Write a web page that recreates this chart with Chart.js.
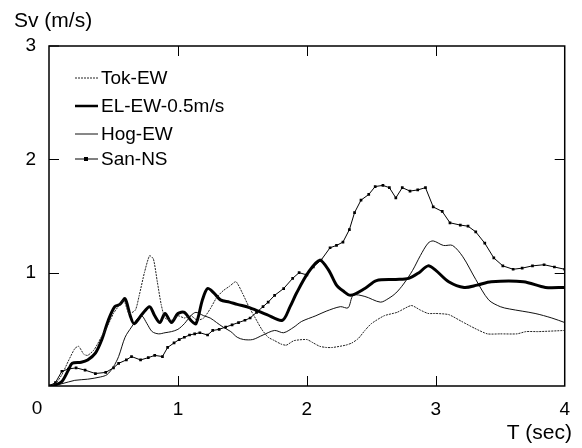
<!DOCTYPE html>
<html>
<head>
<meta charset="utf-8">
<script src="https://cdn.jsdelivr.net/npm/chart.js@4.4.1/dist/chart.umd.min.js"></script>
<style>
  html, body { margin: 0; padding: 0; background: #fff; }
  #wrap { width: 582px; height: 448px; }
</style>
</head>
<body>
<div id="wrap"><canvas id="sv"></canvas></div>
<script>
// period T (sec) and spectral velocity Sv (m/s)
const tokT  = [0, 0.05, 0.1, 0.15, 0.2, 0.23, 0.27, 0.3, 0.35, 0.4, 0.45, 0.5, 0.55, 0.58, 0.62, 0.67, 0.7, 0.74, 0.78, 0.81, 0.84, 0.87, 0.9, 0.95, 1.0, 1.05, 1.1, 1.15, 1.2, 1.25, 1.3, 1.35, 1.4, 1.45, 1.5, 1.55, 1.6, 1.65, 1.7, 1.75, 1.8, 1.84, 1.9, 2.0, 2.05, 2.1, 2.15, 2.2, 2.3, 2.35, 2.4, 2.45, 2.5, 2.6, 2.7, 2.81, 2.88, 2.94, 3.0, 3.1, 3.2, 3.3, 3.4, 3.5, 3.63, 3.7, 3.8, 4.0];
const tokSv = [0, 0.02, 0.1, 0.22, 0.33, 0.35, 0.28, 0.27, 0.32, 0.42, 0.52, 0.64, 0.72, 0.76, 0.64, 0.67, 0.8, 1.0, 1.15, 1.12, 0.92, 0.72, 0.6, 0.58, 0.62, 0.6, 0.62, 0.58, 0.6, 0.68, 0.78, 0.84, 0.88, 0.92, 0.82, 0.7, 0.6, 0.5, 0.43, 0.4, 0.37, 0.36, 0.4, 0.41, 0.38, 0.35, 0.34, 0.34, 0.36, 0.38, 0.42, 0.49, 0.55, 0.62, 0.65, 0.71, 0.67, 0.64, 0.64, 0.63, 0.57, 0.51, 0.46, 0.46, 0.46, 0.48, 0.48, 0.49];

const elT  = [0, 0.05, 0.1, 0.15, 0.18, 0.25, 0.3, 0.36, 0.41, 0.46, 0.51, 0.55, 0.59, 0.63, 0.66, 0.72, 0.78, 0.82, 0.86, 0.9, 0.95, 1.0, 1.05, 1.1, 1.14, 1.19, 1.23, 1.28, 1.33, 1.4, 1.46, 1.56, 1.69, 1.81, 1.87, 1.92, 2.01, 2.1, 2.17, 2.23, 2.28, 2.34, 2.45, 2.54, 2.69, 2.79, 2.87, 2.94, 3.0, 3.1, 3.22, 3.32, 3.43, 3.68, 3.85, 4.0];
const elSv = [0, 0.01, 0.04, 0.14, 0.2, 0.21, 0.23, 0.29, 0.41, 0.58, 0.7, 0.72, 0.77, 0.62, 0.55, 0.63, 0.7, 0.62, 0.56, 0.64, 0.56, 0.64, 0.65, 0.58, 0.55, 0.76, 0.86, 0.82, 0.76, 0.74, 0.72, 0.69, 0.63, 0.58, 0.7, 0.82, 1.0, 1.11, 1.02, 0.89, 0.84, 0.8, 0.86, 0.93, 0.94, 0.95, 1.0, 1.06, 1.02, 0.92, 0.87, 0.89, 0.92, 0.92, 0.87, 0.87];

const hogT  = [0, 0.1, 0.2, 0.3, 0.4, 0.45, 0.5, 0.54, 0.59, 0.64, 0.69, 0.72, 0.76, 0.8, 0.85, 0.9, 0.95, 1.0, 1.05, 1.1, 1.14, 1.2, 1.25, 1.3, 1.35, 1.41, 1.46, 1.51, 1.58, 1.66, 1.75, 1.82, 1.9, 1.96, 2.07, 2.15, 2.26, 2.32, 2.36, 2.45, 2.57, 2.63, 2.69, 2.75, 2.82, 2.88, 2.94, 2.98, 3.06, 3.13, 3.21, 3.31, 3.41, 3.5, 3.57, 3.77, 3.9, 4.0];
const hogSv = [0, 0.02, 0.05, 0.06, 0.08, 0.1, 0.17, 0.26, 0.43, 0.52, 0.6, 0.62, 0.55, 0.48, 0.46, 0.47, 0.48, 0.5, 0.55, 0.62, 0.65, 0.62, 0.6, 0.56, 0.52, 0.48, 0.43, 0.41, 0.41, 0.45, 0.49, 0.47, 0.52, 0.57, 0.62, 0.66, 0.7, 0.69, 0.8, 0.79, 0.74, 0.77, 0.82, 0.9, 1.02, 1.15, 1.26, 1.28, 1.24, 1.24, 1.14, 0.94, 0.76, 0.7, 0.68, 0.64, 0.6, 0.56];

const sanT  = [0, 0.05, 0.1, 0.15, 0.21, 0.28, 0.36, 0.44, 0.5, 0.54, 0.6, 0.64, 0.71, 0.77, 0.82, 0.88, 0.92, 0.97, 1.01, 1.05, 1.09, 1.13, 1.17, 1.23, 1.27, 1.32, 1.37, 1.42, 1.47, 1.52, 1.56, 1.61, 1.66, 1.7, 1.75, 1.82, 1.89, 1.94, 2.0, 2.05, 2.11, 2.18, 2.23, 2.28, 2.33, 2.37, 2.42, 2.48, 2.53, 2.59, 2.64, 2.69, 2.74, 2.8, 2.86, 2.92, 2.98, 3.05, 3.11, 3.19, 3.25, 3.31, 3.38, 3.45, 3.52, 3.6, 3.67, 3.75, 3.84, 3.92, 4.0];
const sanSv = [0, 0.03, 0.13, 0.15, 0.16, 0.14, 0.11, 0.12, 0.16, 0.2, 0.23, 0.26, 0.23, 0.25, 0.27, 0.26, 0.34, 0.38, 0.41, 0.43, 0.45, 0.46, 0.47, 0.45, 0.49, 0.5, 0.52, 0.54, 0.56, 0.58, 0.6, 0.65, 0.7, 0.74, 0.8, 0.86, 0.95, 1.0, 0.98, 1.05, 1.11, 1.22, 1.24, 1.27, 1.38, 1.53, 1.64, 1.69, 1.76, 1.77, 1.75, 1.66, 1.75, 1.72, 1.73, 1.75, 1.58, 1.54, 1.44, 1.42, 1.41, 1.36, 1.26, 1.13, 1.06, 1.03, 1.04, 1.06, 1.07, 1.05, 1.03];

const seriesNames = ['Tok-EW', 'EL-EW-0.5m/s', 'Hog-EW', 'San-NS'];
const xTicks = [0, 1, 2, 3, 4];
const yTicks = [1, 2, 3];

const FONT = '"Liberation Sans", Arial, sans-serif';

function pts(t, v) {
    return t.map((x, i) => ({ x: x, y: v[i] }));
}

// box, inward ticks, legend inside the plot, axis captions
const framePlugin = {
    id: 'frame',
    afterDraw(chart) {
        const ctx = chart.ctx;
        const a = chart.chartArea;
        const xs = chart.scales.x, ys = chart.scales.y;
        ctx.save();
        ctx.strokeStyle = '#000';
        ctx.lineWidth = 1.5;
        ctx.strokeRect(a.left, a.top, a.right - a.left, a.bottom - a.top);
        ctx.lineWidth = 1;
        ctx.beginPath();
        xTicks.slice(1, -1).forEach(v => {
            const px = Math.round(xs.getPixelForValue(v)) + 0.5;
            ctx.moveTo(px, a.bottom); ctx.lineTo(px, a.bottom - 10);
            ctx.moveTo(px, a.top); ctx.lineTo(px, a.top + 10);
        });
        yTicks.slice(0, -1).forEach(v => {
            const py = Math.round(ys.getPixelForValue(v)) + 0.5;
            ctx.moveTo(a.left, py); ctx.lineTo(a.left + 10, py);
            ctx.moveTo(a.right, py); ctx.lineTo(a.right - 10, py);
        });
        ctx.moveTo(a.left, a.top); ctx.lineTo(a.left + 10, a.top);
        ctx.stroke();

        // legend
        ctx.font = '19px ' + FONT;
        ctx.textBaseline = 'middle';
        ctx.textAlign = 'left';
        const rowY = [78, 106, 134, 159];
        chart.data.datasets.forEach((ds, i) => {
            const y = rowY[i];
            ctx.save();
            ctx.strokeStyle = ds.borderColor;
            ctx.lineWidth = Math.min(ds.borderWidth, 2.5);
            ctx.setLineDash(ds.borderDash || []);
            ctx.beginPath();
            ctx.moveTo(75, y); ctx.lineTo(98, y);
            ctx.stroke();
            if (ds.pointRadius > 0) {
                ctx.fillStyle = '#000';
                ctx.fillRect(84, y - 2, 4, 4);
            }
            ctx.restore();
            ctx.fillStyle = '#000';
            ctx.fillText(ds.label, 101, y + 1);
        });

        // captions and the shared "0"
        ctx.font = '21px ' + FONT;
        ctx.fillText('Sv (m/s)', 14, 21);
        ctx.textAlign = 'right';
        ctx.fillText('T (sec)', 572, 433);
        ctx.font = '19px ' + FONT;
        ctx.textAlign = 'center';
        ctx.fillText(String(xTicks[0]), 37, 409);
        ctx.restore();
    }
};

const chart = new Chart(document.getElementById('sv'), {
    type: 'line',
    data: {
        datasets: [{
            label: seriesNames[0],
            data: pts(tokT, tokSv),
            borderColor: '#222',
            borderWidth: 1,
            borderDash: [2, 1],
            pointRadius: 0,
            tension: 0.2
        }, {
            label: seriesNames[1],
            data: pts(elT, elSv),
            borderColor: '#000',
            borderWidth: 3,
            pointRadius: 0,
            tension: 0.3
        }, {
            label: seriesNames[2],
            data: pts(hogT, hogSv),
            borderColor: '#111',
            borderWidth: 1,
            pointRadius: 0,
            tension: 0.3
        }, {
            label: seriesNames[3],
            data: pts(sanT, sanSv),
            borderColor: '#000',
            borderWidth: 1,
            pointStyle: 'rect',
            pointRadius: 1.9,
            pointBackgroundColor: '#000',
            pointBorderWidth: 0,
            tension: 0
        }]
    },
    options: {
        responsive: true,
        maintainAspectRatio: false,
        animation: false,
        layout: { padding: { top: 46, right: 4, left: 0, bottom: 0 } },
        plugins: {
            legend: { display: false },
            tooltip: { enabled: false }
        },
        scales: {
            x: {
                type: 'linear',
                min: 0,
                max: 4,
                grid: { display: false, drawTicks: false },
                border: { display: false },
                afterBuildTicks(scale) { scale.ticks = xTicks.map(v => ({ value: v })); },
                afterFit(scale) { scale.height = 62; },
                ticks: {
                    color: '#000',
                    font: { size: 19, family: FONT },
                    padding: 12,
                    maxRotation: 0,
                    autoSkip: false,
                    callback: v => (v === 0 ? '' : String(v))
                }
            },
            y: {
                min: 0,
                max: 3,
                grid: { display: false, drawTicks: false },
                border: { display: false },
                afterBuildTicks(scale) { scale.ticks = yTicks.map(v => ({ value: v })); },
                afterFit(scale) { scale.width = 49; },
                ticks: {
                    color: '#000',
                    font: { size: 19, family: FONT },
                    padding: 13,
                    callback: v => String(v)
                }
            }
        }
    },
    plugins: [framePlugin]
});
</script>
</body>
</html>
